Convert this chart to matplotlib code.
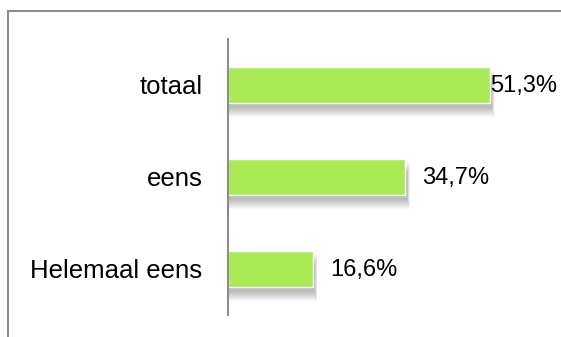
import matplotlib.pyplot as plt
from matplotlib.lines import Line2D

plt.rcParams['font.family'] = ['Liberation Sans', 'DejaVu Sans']

# answer categories, bottom to top
categories = ["Helemaal eens", "eens", "totaal"]
percentages = [16.6, 34.7, 51.3]
# label gap after the bar end (pixels); the top label sits flush against its bar
label_gaps = [17, 17, 0]

BAR_COLOR = "#aaeb55"
LINE_COLOR = "#8c8c8c"

fig = plt.figure(figsize=(5.61, 3.37), dpi=100)
ax = fig.add_axes([228 / 561, 22 / 337, 334 / 561, 276 / 337])

XMAX = 65.4
ypos = list(range(len(categories)))
bar_h = 0.39
py = 1 / 92        # one pixel in category units
px = XMAX / 334    # one pixel in percent units

# soft drop shadow under each bar, built from stacked translucent layers
for k in range(10):
    ax.barh(
        [y - 9 * py for y in ypos],
        [v + (2 + 0.3 * k) * px for v in percentages],
        height=bar_h + 2 * k * py - 8 * py,
        color="#000000",
        alpha=0.026,
        linewidth=0,
        zorder=1,
    )

ax.barh(ypos, percentages, height=bar_h, color=BAR_COLOR,
        edgecolor="white", linewidth=1.0, zorder=3)

for y, v, gap in zip(ypos, percentages, label_gaps):
    ax.annotate(f"{v:.1f}%".replace(".", ","), xy=(v, y),
                xytext=(gap, -1), textcoords="offset pixels",
                ha="left", va="center", fontsize=17, color="#000000",
                zorder=4)

ax.set_xlim(0, XMAX)
ax.set_ylim(-0.5, len(categories) - 0.5)
ax.set_yticks(ypos)
ax.set_yticklabels(categories, fontsize=18.5)
ax.tick_params(axis="y", length=0, pad=18.5)
ax.set_xticks([])

for side in ["top", "right", "bottom"]:
    ax.spines[side].set_visible(False)
ax.spines["left"].set_color(LINE_COLOR)
ax.spines["left"].set_linewidth(1.5)
ax.spines["left"].set_zorder(5)

# outer chart border (top and left edge)
W, H = 561, 337
fig.add_artist(Line2D([7.5 / W, 1], [1 - 10.5 / H, 1 - 10.5 / H],
                      transform=fig.transFigure, color=LINE_COLOR, lw=1.5))
fig.add_artist(Line2D([7.5 / W, 7.5 / W], [0, 1 - 10.5 / H],
                      transform=fig.transFigure, color=LINE_COLOR, lw=1.5))

fig.savefig("out.png", dpi=100)
